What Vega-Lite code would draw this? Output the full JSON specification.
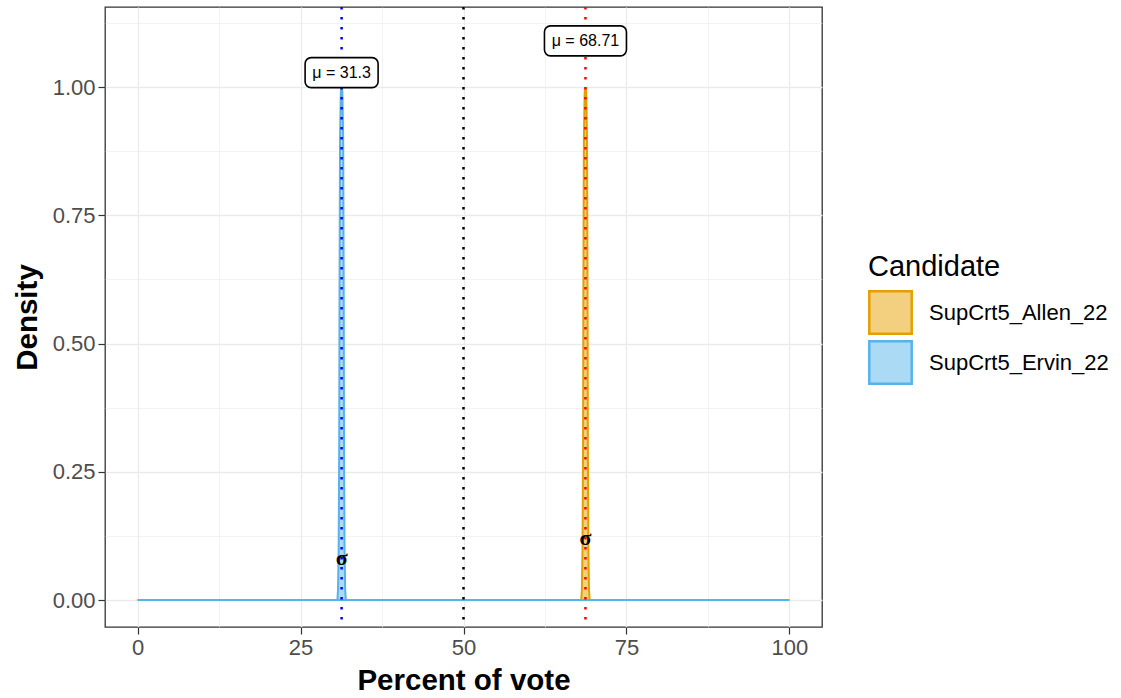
{
  "$schema": "https://vega.github.io/schema/vega-lite/v6.json",
  "width": 717,
  "height": 620,
  "autosize": {"type": "none"},
  "padding": {"left": 105, "top": 7, "right": 299, "bottom": 71},
  "background": "white",
  "config": {
    "font": "Liberation Sans",
    "view": {"stroke": "#333333", "strokeWidth": 1.3},
    "axis": {
      "domain": false,
      "grid": true,
      "gridColor": "#EBEBEB",
      "labelFont": "Liberation Sans",
      "labelFontSize": 22,
      "labelColor": "#4D4D4D",
      "tickColor": "#333333",
      "tickSize": 7,
      "tickWidth": 1.2,
      "labelPadding": 3,
      "titleFont": "Liberation Sans",
      "titleFontSize": 29.5,
      "titleFontWeight": "bold",
      "titleColor": "black"
    }
  },
  "datasets": {
    "density": [
      {"candidate": "SupCrt5_Allen_22", "pct": 0, "density": 0},
      {"candidate": "SupCrt5_Allen_22", "pct": 68.06, "density": 0},
      {"candidate": "SupCrt5_Allen_22", "pct": 68.16, "density": 0.02},
      {"candidate": "SupCrt5_Allen_22", "pct": 68.26, "density": 0.1},
      {"candidate": "SupCrt5_Allen_22", "pct": 68.34, "density": 0.3},
      {"candidate": "SupCrt5_Allen_22", "pct": 68.39, "density": 0.6},
      {"candidate": "SupCrt5_Allen_22", "pct": 68.47, "density": 0.9},
      {"candidate": "SupCrt5_Allen_22", "pct": 68.59, "density": 0.99},
      {"candidate": "SupCrt5_Allen_22", "pct": 68.71, "density": 1.0},
      {"candidate": "SupCrt5_Allen_22", "pct": 68.83, "density": 0.99},
      {"candidate": "SupCrt5_Allen_22", "pct": 68.95, "density": 0.9},
      {"candidate": "SupCrt5_Allen_22", "pct": 69.03, "density": 0.6},
      {"candidate": "SupCrt5_Allen_22", "pct": 69.08, "density": 0.3},
      {"candidate": "SupCrt5_Allen_22", "pct": 69.16, "density": 0.1},
      {"candidate": "SupCrt5_Allen_22", "pct": 69.26, "density": 0.02},
      {"candidate": "SupCrt5_Allen_22", "pct": 69.36, "density": 0},
      {"candidate": "SupCrt5_Allen_22", "pct": 100, "density": 0},
      {"candidate": "SupCrt5_Ervin_22", "pct": 0, "density": 0},
      {"candidate": "SupCrt5_Ervin_22", "pct": 30.65, "density": 0},
      {"candidate": "SupCrt5_Ervin_22", "pct": 30.75, "density": 0.02},
      {"candidate": "SupCrt5_Ervin_22", "pct": 30.85, "density": 0.1},
      {"candidate": "SupCrt5_Ervin_22", "pct": 30.93, "density": 0.3},
      {"candidate": "SupCrt5_Ervin_22", "pct": 30.98, "density": 0.6},
      {"candidate": "SupCrt5_Ervin_22", "pct": 31.06, "density": 0.9},
      {"candidate": "SupCrt5_Ervin_22", "pct": 31.18, "density": 0.99},
      {"candidate": "SupCrt5_Ervin_22", "pct": 31.3, "density": 1.0},
      {"candidate": "SupCrt5_Ervin_22", "pct": 31.42, "density": 0.99},
      {"candidate": "SupCrt5_Ervin_22", "pct": 31.54, "density": 0.9},
      {"candidate": "SupCrt5_Ervin_22", "pct": 31.62, "density": 0.6},
      {"candidate": "SupCrt5_Ervin_22", "pct": 31.67, "density": 0.3},
      {"candidate": "SupCrt5_Ervin_22", "pct": 31.75, "density": 0.1},
      {"candidate": "SupCrt5_Ervin_22", "pct": 31.85, "density": 0.02},
      {"candidate": "SupCrt5_Ervin_22", "pct": 31.95, "density": 0},
      {"candidate": "SupCrt5_Ervin_22", "pct": 100, "density": 0}
    ],
    "labels": [
      {"candidate": "SupCrt5_Ervin_22", "mu": 31.3, "ylab": 1.028, "label": "μ = 31.3", "sigma_y": 0.082},
      {"candidate": "SupCrt5_Allen_22", "mu": 68.71, "ylab": 1.09, "label": "μ = 68.71", "sigma_y": 0.121}
    ]
  },
  "layer": [
    {
      "data": {"name": "density"},
      "mark": {"type": "area", "strokeWidth": 2, "fillOpacity": 1, "interpolate": "linear"},
      "encoding": {
        "x": {
          "field": "pct", "type": "quantitative",
          "scale": {"domain": [-5, 105], "nice": false, "zero": false},
          "axis": {
            "title": "Percent of vote",
            "titlePadding": 8,
            "values": [0, 12.5, 25, 37.5, 50, 62.5, 75, 87.5, 100],
            "labelExpr": "datum.value % 25 == 0 ? format(datum.value, 'd') : ''",
            "gridWidth": {"condition": {"test": "datum.value % 25 == 0", "value": 1.3}, "value": 0.6},
            "tickOpacity": {"condition": {"test": "datum.value % 25 == 0", "value": 1}, "value": 0}
          }
        },
        "y": {
          "field": "density", "type": "quantitative", "stack": null,
          "scale": {"domain": [-0.0526, 1.156], "nice": false, "zero": false},
          "axis": {
            "title": "Density",
            "titlePadding": 10,
            "values": [0, 0.125, 0.25, 0.375, 0.5, 0.625, 0.75, 0.875, 1.0, 1.125],
            "labelExpr": "abs(datum.value*4 - round(datum.value*4)) < 0.001 ? format(datum.value, '.2f') : ''",
            "gridWidth": {"condition": {"test": "abs(datum.value*4 - round(datum.value*4)) < 0.001", "value": 1.3}, "value": 0.6},
            "tickOpacity": {"condition": {"test": "abs(datum.value*4 - round(datum.value*4)) < 0.001", "value": 1}, "value": 0}
          }
        },
        "fill": {
          "field": "candidate", "type": "nominal",
          "scale": {"domain": ["SupCrt5_Allen_22", "SupCrt5_Ervin_22"], "range": ["#F3CF80", "#ABDAF4"]},
          "legend": {
            "title": "Candidate",
            "orient": "none",
            "legendX": 763,
            "legendY": 246,
            "padding": 0,
            "titleFontSize": 29,
            "titleFontWeight": "normal",
            "titleColor": "black",
            "titleFont": "Liberation Sans",
            "titlePadding": 8,
            "labelFontSize": 22,
            "labelColor": "black",
            "labelFont": "Liberation Sans",
            "labelLimit": 300,
            "labelOffset": 16,
            "symbolType": "square",
            "symbolSize": 1800,
            "symbolStrokeWidth": 2.5,
            "symbolOpacity": 1,
            "rowPadding": -3
          }
        },
        "stroke": {
          "field": "candidate", "type": "nominal",
          "scale": {"domain": ["SupCrt5_Allen_22", "SupCrt5_Ervin_22"], "range": ["#E69F00", "#56B4E9"]}
        }
      }
    },
    {
      "data": {"values": [{"pct": 50}]},
      "mark": {"type": "rule", "color": "black", "strokeWidth": 2.5, "strokeDash": [2.5, 7.5]},
      "encoding": {"x": {"field": "pct", "type": "quantitative"}}
    },
    {
      "data": {"values": [{"pct": 31.3}]},
      "mark": {"type": "rule", "color": "blue", "strokeWidth": 2.5, "strokeDash": [2.5, 7.5]},
      "encoding": {"x": {"field": "pct", "type": "quantitative"}}
    },
    {
      "data": {"values": [{"pct": 68.71}]},
      "mark": {"type": "rule", "color": "red", "strokeWidth": 2.5, "strokeDash": [2.5, 7.5]},
      "encoding": {"x": {"field": "pct", "type": "quantitative"}}
    },
    {
      "data": {"name": "labels"},
      "transform": [{"filter": "datum.candidate == 'SupCrt5_Ervin_22'"}],
      "mark": {"type": "rect", "width": 73, "height": 30, "cornerRadius": 6, "fill": "white", "stroke": "black", "strokeWidth": 1.6},
      "encoding": {
        "x": {"field": "mu", "type": "quantitative"},
        "y": {"field": "ylab", "type": "quantitative"}
      }
    },
    {
      "data": {"name": "labels"},
      "transform": [{"filter": "datum.candidate == 'SupCrt5_Allen_22'"}],
      "mark": {"type": "rect", "width": 82, "height": 30, "cornerRadius": 6, "fill": "white", "stroke": "black", "strokeWidth": 1.6},
      "encoding": {
        "x": {"field": "mu", "type": "quantitative"},
        "y": {"field": "ylab", "type": "quantitative"}
      }
    },
    {
      "data": {"name": "labels"},
      "mark": {"type": "text", "fontSize": 16, "color": "black", "font": "Liberation Sans", "align": "center", "baseline": "middle"},
      "encoding": {
        "x": {"field": "mu", "type": "quantitative"},
        "y": {"field": "ylab", "type": "quantitative"},
        "text": {"field": "label"}
      }
    },
    {
      "data": {"name": "labels"},
      "mark": {"type": "text", "fontSize": 22, "color": "black", "font": "Liberation Serif", "fontWeight": "bold", "align": "center", "baseline": "middle"},
      "encoding": {
        "x": {"field": "mu", "type": "quantitative"},
        "y": {"field": "sigma_y", "type": "quantitative"},
        "text": {"value": "σ"}
      }
    }
  ]
}
